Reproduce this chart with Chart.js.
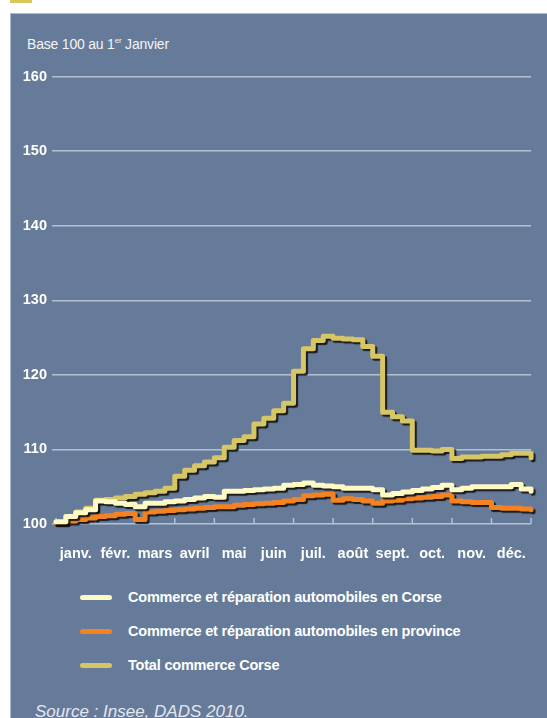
<!DOCTYPE html>
<html>
<head>
<meta charset="utf-8">
<script src="https://cdn.jsdelivr.net/npm/chart.js@4"></script>
<style>
  html, body { margin: 0; padding: 0; background: #ffffff; }
  body { width: 547px; height: 718px; position: relative; overflow: hidden;
         font-family: "Liberation Sans", Arial, sans-serif; }
  #mark { position: absolute; left: 10px; top: 0; width: 22px; height: 3px; background: #d8c85c; }
  #panel { position: absolute; left: 10px; top: 13px; width: 540px; height: 710px;
           background: #667b99; border-left: 1px solid #a9bccf; border-top: 1px solid #a9bccf; }
  #unit { position: absolute; left: 27px; top: 36px; color: #f2f4f7; font-size: 14px; letter-spacing: -0.2px; }
  #unit sup { font-size: 8px; vertical-align: 6px; }
  #wrap { position: absolute; left: 10px; top: 63px; width: 537px; height: 512px; }
  #legend { position: absolute; left: 80px; top: 580px; }
  .item { display: flex; align-items: center; height: 34px; color: #ffffff;
          font-weight: bold; font-size: 14.5px; letter-spacing: -0.2px; }
  .swatch { width: 32px; height: 5px; border-radius: 3px; margin-right: 16px; }
  #source { position: absolute; left: 35px; top: 702px; color: #e3e8ef;
            font-style: italic; font-size: 17px; }
</style>
</head>
<body>
<div id="mark"></div>
<div id="panel"></div>
<div id="unit">Base 100 au 1<sup>er</sup> Janvier</div>
<div id="wrap"><canvas id="chart"></canvas></div>
<div id="legend"></div>
<div id="source">Source : Insee, DADS 2010.</div>
<script>
// position in months since 1 January (one point every quarter month)
const positions = [0, 0.25, 0.5, 0.75, 1, 1.25, 1.5, 1.75, 2, 2.25, 2.5, 2.75,
  3, 3.25, 3.5, 3.75, 4, 4.25, 4.5, 4.75, 5, 5.25, 5.5, 5.75,
  6, 6.25, 6.5, 6.75, 7, 7.25, 7.5, 7.75, 8, 8.25, 8.5, 8.75,
  9, 9.25, 9.5, 9.75, 10, 10.25, 10.5, 10.75, 11, 11.25, 11.5, 11.75, 12]

const months = ["janv.", "févr.", "mars", "avril", "mai", "juin", "juil.", "août", "sept.", "oct.", "nov.", "déc."]
const yTicks = [100, 110, 120, 130, 140, 150, 160]

const seriesNames = [
  "Commerce et réparation automobiles en Corse",
  "Commerce et réparation automobiles en province",
  "Total commerce Corse"
]
const seriesColors = ["#fff9c4", "#f58220", "#d6c665"]

const corseAuto = [100.3, 101.0, 101.5, 101.9, 103.1, 103.0, 102.8, 102.6, 102.3, 102.8, 102.8, 103.0,
  103.1, 103.3, 103.5, 103.7, 103.6, 104.4, 104.4, 104.5, 104.6, 104.7, 104.8, 105.2,
  105.3, 105.5, 105.2, 105.1, 105.0, 104.8, 104.8, 104.8, 104.6, 103.9, 104.1, 104.3,
  104.5, 104.7, 104.9, 105.2, 104.6, 104.8, 105.0, 105.0, 105.0, 105.0, 105.3, 104.7, 104.4]

const provinceAuto = [100.2, 100.4, 100.6, 100.8, 101.0, 101.1, 101.3, 101.4, 100.6, 101.6, 101.7, 101.8,
  101.9, 102.0, 102.1, 102.2, 102.3, 102.3, 102.5, 102.6, 102.7, 102.8, 102.9, 103.1,
  103.3, 103.8, 103.9, 104.0, 103.2, 103.4, 103.3, 103.1, 102.8, 103.1, 103.2, 103.4,
  103.5, 103.6, 103.7, 103.9, 103.1, 103.0, 102.9, 102.9, 102.2, 102.1, 102.1, 102.0, 101.9]

const totalCorse = [100.2, 101.0, 101.6, 102.1, 103.2, 103.3, 103.5, 103.7, 104.0, 104.2, 104.4, 104.8,
  106.4, 107.2, 107.8, 108.3, 108.9, 110.3, 111.2, 111.7, 113.4, 114.2, 115.2, 116.2,
  120.5, 123.5, 124.6, 125.2, 124.9, 124.8, 124.7, 123.8, 122.5, 115.0, 114.4, 113.8,
  109.9, 109.9, 109.8, 110.0, 108.8, 109.0, 109.0, 109.1, 109.1, 109.3, 109.5, 109.5, 108.9]

const allSeries = [corseAuto, provinceAuto, totalCorse]

const gridColor = "#b3c1d3"

// small tick marks on the base line + dark drop shadow under the lines
const decorPlugin = {
  id: "decor",
  beforeDatasetsDraw(chart) {
    const ctx = chart.ctx
    const x = chart.scales.x
    const y = chart.scales.y
    const base = y.getPixelForValue(100)
    ctx.save()
    ctx.strokeStyle = gridColor
    ctx.lineWidth = 1.5
    for (let m = 0; m <= 12; m++) {
      const px = x.getPixelForValue(m)
      ctx.beginPath()
      ctx.moveTo(px, base)
      ctx.lineTo(px, base - 6)
      ctx.stroke()
    }
    ctx.restore()
    ctx.save()
    ctx.shadowColor = "rgba(15,15,15,0.9)"
    ctx.shadowOffsetX = 2
    ctx.shadowOffsetY = 2
    ctx.shadowBlur = 1
  },
  afterDatasetsDraw(chart) {
    chart.ctx.restore()
  }
}

const legendDiv = document.getElementById("legend")
let legendHTML = ""
seriesNames.forEach((name, i) => {
  legendHTML += `<div class="item"><span class="swatch" style="background:${seriesColors[i]}"></span>${name}</div>`
})
legendDiv.innerHTML = legendHTML

const ctx = document.getElementById("chart")
const tickFont = { family: "'Liberation Sans', Arial", size: 14.5, weight: "bold" }

new Chart(ctx, {
  type: "line",
  data: {
    datasets: allSeries.map((values, i) => ({
      label: seriesNames[i],
      data: values.map((v, j) => ({ x: positions[j], y: v })),
      borderColor: seriesColors[i],
      borderWidth: 5,
      borderCapStyle: "round",
      borderJoinStyle: "round",
      pointRadius: 0,
      stepped: true,
      clip: 10
    }))
  },
  plugins: [decorPlugin],
  options: {
    responsive: true,
    maintainAspectRatio: false,
    animation: false,
    layout: { padding: { top: 10, right: 5, bottom: 0, left: 0 } },
    plugins: {
      legend: { display: false },
      tooltip: { enabled: false }
    },
    scales: {
      x: {
        type: "linear",
        min: 0,
        max: 12,
        afterBuildTicks: scale => {
          scale.ticks = months.map((m, i) => ({ value: i + 0.5 }))
        },
        afterFit: scale => { scale.height = 51 },
        grid: { display: false, drawTicks: false },
        border: { display: false },
        ticks: {
          autoSkip: false,
          maxRotation: 0,
          padding: 21,
          color: "#ffffff",
          font: tickFont,
          callback: value => months[Math.floor(value)]
        }
      },
      y: {
        min: 100,
        max: 160,
        afterBuildTicks: scale => {
          scale.ticks = yTicks.map(v => ({ value: v }))
        },
        afterFit: scale => { scale.width = 46 },
        border: { display: false },
        grid: { color: gridColor, lineWidth: 1.5, tickLength: 4 },
        ticks: {
          padding: 5,
          color: "#ffffff",
          font: tickFont
        }
      }
    }
  }
})
</script>
</body>
</html>
